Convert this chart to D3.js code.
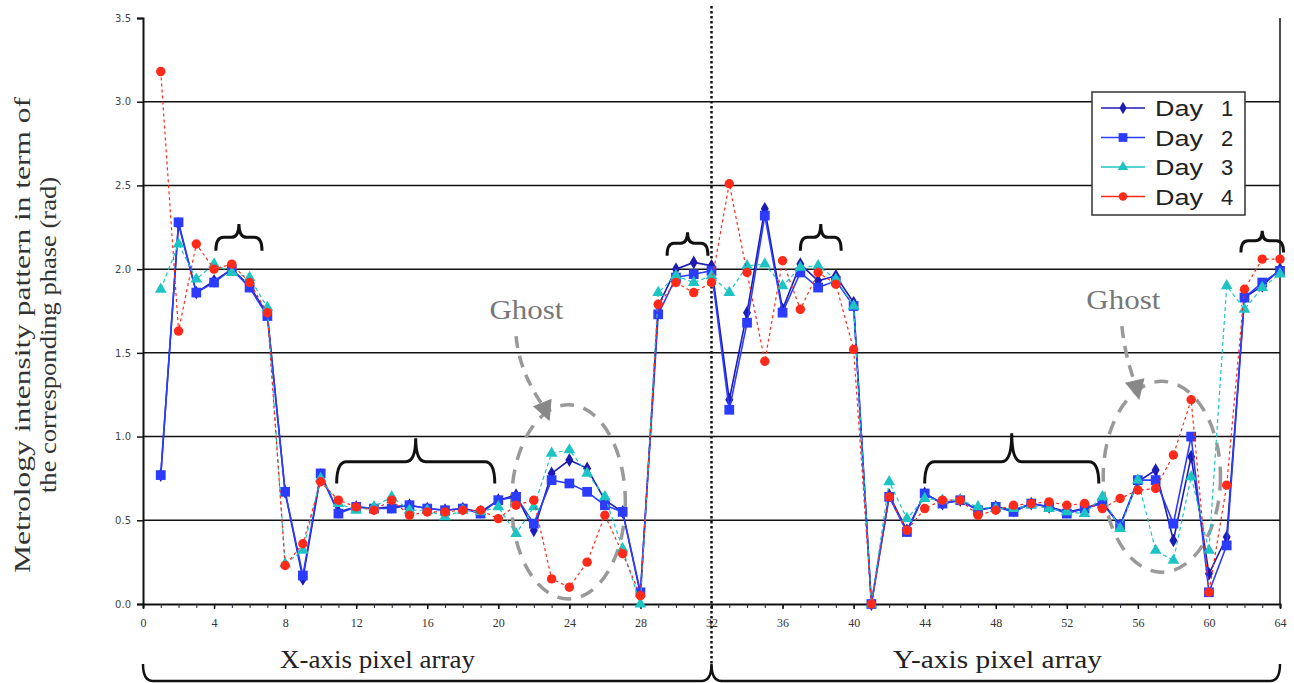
<!DOCTYPE html>
<html>
<head>
<meta charset="utf-8">
<script src="https://cdn.jsdelivr.net/npm/d3@7"></script>
<style>
  body { margin: 0; background: #fff; }
  svg { display: block; }
</style>
</head>
<body>
<div id="chart"></div>
<script>
// pixel index 1..64 (1-32 = X-axis pixels, 33-64 = Y-axis pixels)
const pixels = d3.range(1, 65);

const day1 = [0.77, 2.27, 1.86, 1.93, 2.00, 1.90, 1.73, 0.67, 0.15, 0.77,
  0.55, 0.58, 0.57, 0.58, 0.59, 0.57, 0.56, 0.57, 0.55, 0.62,
  0.65, 0.44, 0.78, 0.86, 0.81, 0.62, 0.55, 0.06, 1.78, 2.00,
  2.04, 2.02, 1.22, 1.74, 2.36, 1.76, 2.03, 1.93, 1.96, 1.80,
  0.00, 0.65, 0.44, 0.66, 0.60, 0.62, 0.56, 0.58, 0.56, 0.60,
  0.58, 0.55, 0.57, 0.61, 0.47, 0.73, 0.80, 0.38, 0.88, 0.18,
  0.40, 1.83, 1.90, 2.00];

const day2 = [0.77, 2.28, 1.86, 1.92, 2.00, 1.89, 1.72, 0.67, 0.17, 0.78,
  0.54, 0.58, 0.57, 0.57, 0.59, 0.57, 0.56, 0.57, 0.54, 0.62,
  0.64, 0.48, 0.74, 0.72, 0.67, 0.59, 0.55, 0.07, 1.73, 1.95,
  1.97, 1.99, 1.16, 1.68, 2.32, 1.74, 1.98, 1.89, 1.93, 1.78,
  0.00, 0.64, 0.43, 0.66, 0.60, 0.62, 0.56, 0.58, 0.55, 0.60,
  0.58, 0.54, 0.57, 0.60, 0.47, 0.74, 0.74, 0.48, 1.00, 0.07,
  0.35, 1.83, 1.92, 1.99];

const day3 = [1.88, 2.15, 1.94, 2.03, 1.98, 1.95, 1.77, 0.24, 0.32, 0.75,
  0.60, 0.56, 0.58, 0.64, 0.56, 0.56, 0.52, 0.56, 0.55, 0.58,
  0.42, 0.58, 0.90, 0.92, 0.78, 0.64, 0.33, 0.00, 1.86, 1.96,
  1.92, 1.96, 1.86, 2.02, 2.03, 1.90, 2.01, 2.02, 1.94, 1.78,
  0.00, 0.73, 0.51, 0.63, 0.62, 0.62, 0.58, 0.57, 0.57, 0.59,
  0.57, 0.55, 0.54, 0.64, 0.45, 0.74, 0.32, 0.26, 0.76, 0.32,
  1.90, 1.76, 1.89, 1.97];

const day4 = [3.18, 1.63, 2.15, 2.00, 2.03, 1.92, 1.74, 0.23, 0.36, 0.73,
  0.62, 0.58, 0.56, 0.62, 0.53, 0.55, 0.55, 0.56, 0.56, 0.51,
  0.59, 0.62, 0.15, 0.10, 0.25, 0.53, 0.30, 0.05, 1.79, 1.92,
  1.86, 1.92, 2.51, 1.98, 1.45, 2.05, 1.76, 1.98, 1.91, 1.52,
  0.00, 0.64, 0.44, 0.57, 0.62, 0.62, 0.53, 0.56, 0.59, 0.60,
  0.61, 0.59, 0.60, 0.57, 0.63, 0.68, 0.69, 0.89, 1.22, 0.07,
  0.71, 1.88, 2.06, 2.06];

const seriesNames = ["Day", "Day", "Day", "Day"];
const seriesNums = ["1", "2", "3", "4"];
const seriesValues = [day1, day2, day3, day4];
const seriesColors = ["#1c1cb4", "#2b3cff", "#1ec4c4", "#ff2a1a"];
const seriesDash = [null, null, "4,3", "3,3"];
const seriesMarkers = [d3.symbolDiamond, d3.symbolSquare, d3.symbolTriangle, d3.symbolCircle];
const seriesMarkerSize = [55, 95, 60, 70];

const yTicks = [0, 0.5, 1.0, 1.5, 2.0, 2.5, 3.0, 3.5];
const xTicks = d3.range(0, 65, 4);

const W = 1294, H = 683;
const margin = { top: 18, right: 14, bottom: 79, left: 143 };

const svg = d3.select("#chart").append("svg")
  .attr("width", W)
  .attr("height", H);

const x = d3.scaleLinear().domain([0, 64]).range([margin.left, W - margin.right]);
const y = d3.scaleLinear().domain([0, 3.5]).range([H - margin.bottom, margin.top]);

// gridlines
svg.append("g")
  .selectAll("line")
  .data(yTicks.filter(d => d > 0 && d < 3.5))
  .join("line")
  .attr("x1", x(0)).attr("x2", x(64))
  .attr("y1", d => y(d)).attr("y2", d => y(d))
  .attr("stroke", "#111").attr("stroke-width", 1.5);

// right border
svg.append("line")
  .attr("x1", x(64)).attr("x2", x(64))
  .attr("y1", y(3.5)).attr("y2", y(0))
  .attr("stroke", "#111").attr("stroke-width", 1.5);

// y axis
const yAxis = svg.append("g")
  .attr("transform", `translate(${x(0)},0)`)
  .call(d3.axisLeft(y).tickValues(yTicks).tickFormat(d3.format(".1f")).tickSize(6).tickPadding(6));
yAxis.select(".domain").attr("stroke", "#111").attr("stroke-width", 2);
yAxis.selectAll(".tick line").attr("stroke", "#111").attr("stroke-width", 1.5);
yAxis.selectAll("text")
  .attr("font-family", "DejaVu Sans, sans-serif")
  .attr("font-size", 10)
  .attr("fill", "#444");

// x axis: minor ticks then major labelled ticks
const xAxisMinor = svg.append("g")
  .attr("transform", `translate(0,${y(0)})`)
  .call(d3.axisBottom(x).tickValues(d3.range(0, 65)).tickFormat("").tickSize(4));
xAxisMinor.select(".domain").attr("stroke", "#111").attr("stroke-width", 2);
xAxisMinor.selectAll(".tick line").attr("stroke", "#223").attr("stroke-width", 1);

const xAxis = svg.append("g")
  .attr("transform", `translate(0,${y(0)})`)
  .call(d3.axisBottom(x).tickValues(xTicks).tickSize(5).tickPadding(9));
xAxis.select(".domain").remove();
xAxis.selectAll(".tick line").attr("stroke", "#111").attr("stroke-width", 1.5);
xAxis.selectAll("text")
  .attr("font-family", "Liberation Serif, serif")
  .attr("font-size", 12)
  .attr("fill", "#333");

// y axis title
const yTitle = svg.append("text")
  .attr("transform", `translate(36,${(y(0) + y(3.5)) / 2 + 24}) rotate(-90)`)
  .attr("text-anchor", "middle")
  .attr("font-family", "Liberation Serif, serif")
  .attr("font-size", 24)
  .attr("fill", "#333");
yTitle.append("tspan").attr("x", 0).attr("dy", -6)
  .attr("textLength", 476).attr("lengthAdjust", "spacingAndGlyphs")
  .text("Metrology intensity pattern in term of");
yTitle.append("tspan").attr("x", 0).attr("dy", 26)
  .attr("textLength", 316).attr("lengthAdjust", "spacingAndGlyphs")
  .text("the corresponding phase (rad)");

// curly brace helper (tip up)
function bracePath(x1, x2, yEnd, yMid, yTip) {
  const xm = (x1 + x2) / 2;
  const r = Math.min(10, (x2 - x1) / 6);
  return `M${x1},${yEnd} Q${x1},${yMid} ${x1 + r},${yMid} L${xm - r},${yMid} ` +
    `Q${xm},${yMid} ${xm},${yTip} Q${xm},${yMid} ${xm + r},${yMid} ` +
    `L${x2 - r},${yMid} Q${x2},${yMid} ${x2},${yEnd}`;
}

const braces = [
  [4.1, 6.7, 2.11, 2.19, 2.27],
  [29.5, 31.8, 2.08, 2.155, 2.22],
  [37.0, 39.3, 2.11, 2.19, 2.27],
  [61.8, 64.2, 2.10, 2.17, 2.23],
  [10.9, 19.8, 0.72, 0.85, 0.99],
  [44.0, 53.8, 0.72, 0.85, 1.02]
];
svg.append("g")
  .selectAll("path")
  .data(braces)
  .join("path")
  .attr("d", d => bracePath(x(d[0]), x(d[1]), y(d[2]), y(d[3]), y(d[4])))
  .attr("fill", "none")
  .attr("stroke", "#111")
  .attr("stroke-width", 3);

// bottom brace under the axis
svg.append("path")
  .attr("d", () => {
    const x1 = x(0), x2 = x(64), xm = x(32), yb = 681, yt = 664, r = 10;
    return `M${x1},${yt} Q${x1},${yb} ${x1 + r},${yb} L${xm - r},${yb} Q${xm},${yb} ${xm},${yt} ` +
      `Q${xm},${yb} ${xm + r},${yb} L${x2 - r},${yb} Q${x2},${yb} ${x2},${yt}`;
  })
  .attr("fill", "none")
  .attr("stroke", "#111")
  .attr("stroke-width", 2.5);

svg.append("g")
  .selectAll("text")
  .data([["X-axis pixel array", 13.2, 195], ["Y-axis pixel array", 48.1, 209]])
  .join("text")
  .attr("x", d => x(d[1]))
  .attr("y", 668)
  .attr("text-anchor", "middle")
  .attr("font-family", "Liberation Serif, serif")
  .attr("font-size", 25)
  .attr("textLength", d => d[2])
  .attr("lengthAdjust", "spacingAndGlyphs")
  .attr("fill", "#222")
  .text(d => d[0]);

// ghost ellipses and arrows
const ghosts = [
  { cx: 23.95, cy: 0.61, rx: 3.2, ry: 0.58, label: 19.5, ly: 1.70, ax1: 21.0, ay1: 1.60, ax2: 22.6, ay2: 1.17 },
  { cx: 57.35, cy: 0.76, rx: 3.3, ry: 0.57, label: 53.1, ly: 1.76, ax1: 55.1, ay1: 1.66, ax2: 55.9, ay2: 1.30 }
];
const gG = svg.append("g");
gG.selectAll("ellipse")
  .data(ghosts)
  .join("ellipse")
  .attr("cx", d => x(d.cx))
  .attr("cy", d => y(d.cy))
  .attr("rx", d => x(d.rx) - x(0))
  .attr("ry", d => y(0) - y(d.ry))
  .attr("fill", "none")
  .attr("stroke", "#999")
  .attr("stroke-width", 3.5)
  .attr("stroke-dasharray", "14,10");
gG.selectAll("path.arrow")
  .data(ghosts)
  .join("path")
  .attr("class", "arrow")
  .attr("d", d => {
    const x1 = x(d.ax1), y1 = y(d.ay1), x2 = x(d.ax2), y2 = y(d.ay2);
    return `M${x1},${y1} Q${x1 + 3},${(y1 + y2) / 2} ${x2},${y2}`;
  })
  .attr("fill", "none")
  .attr("stroke", "#999")
  .attr("stroke-width", 3.5)
  .attr("stroke-dasharray", "12,8");
gG.selectAll("path.head")
  .data(ghosts)
  .join("path")
  .attr("class", "head")
  .attr("d", d => {
    const x2 = x(d.ax2), y2 = y(d.ay2);
    const x1 = x(d.ax1), y1 = y(d.ay1);
    const ang = Math.atan2(y2 - y1, x2 - x1);
    const L = 20, Wd = 10;
    const tx = x2 + Math.cos(ang) * 14, ty = y2 + Math.sin(ang) * 14;
    const bx = tx - Math.cos(ang) * L, by = ty - Math.sin(ang) * L;
    const px = -Math.sin(ang) * Wd, py = Math.cos(ang) * Wd;
    return `M${tx},${ty} L${bx + px},${by + py} L${bx - px},${by - py} Z`;
  })
  .attr("fill", "#888");
gG.selectAll("text")
  .data(ghosts)
  .join("text")
  .attr("x", d => x(d.label))
  .attr("y", d => y(d.ly))
  .attr("font-family", "Liberation Serif, serif")
  .attr("font-size", 28)
  .attr("textLength", 74)
  .attr("lengthAdjust", "spacingAndGlyphs")
  .attr("fill", "#777")
  .text("Ghost");

// vertical dotted separator at pixel 32
svg.append("line")
  .attr("x1", x(32)).attr("x2", x(32))
  .attr("y1", 6).attr("y2", 672)
  .attr("stroke", "#111")
  .attr("stroke-width", 2.5)
  .attr("stroke-dasharray", "2.5,2.5");

// series
const line = d3.line().x((d, i) => x(pixels[i])).y(d => y(d));
seriesValues.forEach((vals, s) => {
  const g = svg.append("g");
  g.append("path")
    .datum(vals)
    .attr("d", line)
    .attr("fill", "none")
    .attr("stroke", seriesColors[s])
    .attr("stroke-width", s < 2 ? 1.6 : 1.2)
    .attr("stroke-dasharray", seriesDash[s]);
  g.selectAll("path.mk")
    .data(vals)
    .join("path")
    .attr("class", "mk")
    .attr("transform", (d, i) => `translate(${x(pixels[i])},${y(d)})`)
    .attr("d", d3.symbol().type(seriesMarkers[s]).size(seriesMarkerSize[s]))
    .attr("fill", seriesColors[s]);
});

// legend
const lg = svg.append("g").attr("transform", "translate(1092,92)");
lg.append("rect")
  .attr("width", 153).attr("height", 123)
  .attr("fill", "#fff")
  .attr("stroke", "#333").attr("stroke-width", 1.5);
seriesNames.forEach((name, s) => {
  const ly = 16 + s * 29.5;
  lg.append("line")
    .attr("x1", 9).attr("x2", 53).attr("y1", ly).attr("y2", ly)
    .attr("stroke", seriesColors[s]).attr("stroke-width", 1.3);
  lg.append("path")
    .attr("transform", `translate(31,${ly})`)
    .attr("d", d3.symbol().type(seriesMarkers[s]).size(seriesMarkerSize[s] * 0.8))
    .attr("fill", seriesColors[s]);
  lg.append("text")
    .attr("x", 63).attr("y", ly + 8)
    .attr("font-family", "Liberation Sans, Arial, sans-serif")
    .attr("font-size", 22)
    .attr("fill", "#222")
    .attr("textLength", 48)
    .attr("lengthAdjust", "spacingAndGlyphs")
    .text(name);
  lg.append("text")
    .attr("x", 135).attr("y", ly + 8)
    .attr("text-anchor", "middle")
    .attr("font-family", "Liberation Sans, Arial, sans-serif")
    .attr("font-size", 22)
    .attr("fill", "#222")
    .text(seriesNums[s]);
});
</script>
</body>
</html>
